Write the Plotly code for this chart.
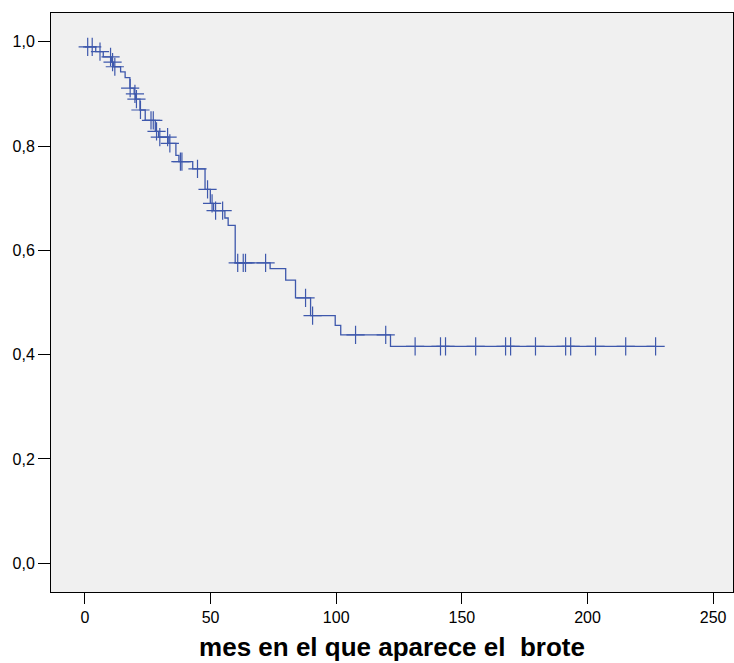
import numpy as np
import plotly.graph_objects as go

# Kaplan-Meier estimate: event times (months) and survival after each event
evt_t = [0, 4.3, 7.3, 10.5, 11.4, 14.2, 16.0, 17.9, 19.6, 20.2, 21.9, 24.0, 28.0,
         29.3, 33.4, 36.2, 37.4, 42.9, 47.8, 49.9, 51.2, 55.7, 57.0, 59.8, 73.7,
         79.9, 83.8, 89.8, 99.6, 101.8, 121.6]
evt_s = [0.990, 0.981, 0.971, 0.961, 0.952, 0.942, 0.931, 0.911, 0.900, 0.890,
         0.869, 0.849, 0.828, 0.817, 0.805, 0.782, 0.770, 0.756, 0.717, 0.690,
         0.676, 0.662, 0.648, 0.576, 0.565, 0.543, 0.509, 0.475, 0.456, 0.438,
         0.416]

# Censored observations (months)
censor_t = [1.1, 2.9, 6.0, 10.2, 11.0, 11.9, 18.0, 19.9, 20.5, 22.1, 26.3, 27.2,
            28.5, 29.8, 32.9, 33.8, 38.0, 38.6, 44.8, 48.8, 50.6, 52.0, 54.8,
            60.8, 63.0, 63.9, 71.9, 87.8, 90.6, 107.7, 119.7, 131.4, 141.5,
            143.5, 155.5, 167.4, 169.4, 179.3, 191.3, 193.3, 203.2, 215.2, 227.1]

x_ticks = [0, 50, 100, 150, 200, 250]
y_ticks = [0.0, 0.2, 0.4, 0.6, 0.8, 1.0]

BLUE = "#3e58ac"
FONT = "Liberation Sans, Arial, sans-serif"

# Step curve runs until the last follow-up time
end_t = max(censor_t[-1], evt_t[-1])
step_x = list(evt_t) + [end_t]
step_y = list(evt_s) + [evt_s[-1]]

# Survival level at each censoring time
idx = np.searchsorted(np.array(evt_t), np.array(censor_t), side="right") - 1
censor_s = [evt_s[i] for i in idx]

fig = go.Figure()
fig.add_trace(go.Scatter(
    x=step_x, y=step_y, mode="lines",
    line=dict(color=BLUE, width=1.3, shape="hv"),
    hoverinfo="skip", showlegend=False,
))
fig.add_trace(go.Scatter(
    x=censor_t, y=censor_s, mode="markers",
    marker=dict(symbol="cross-thin", size=13, color=BLUE,
                line=dict(color=BLUE, width=1.2)),
    showlegend=False,
))

fig.update_layout(
    width=734, height=663,
    margin=dict(l=51, r=1, t=13, b=71),
    paper_bgcolor="white",
    plot_bgcolor="#f0f0f0",
    separators=", ",
    font=dict(family=FONT, size=16, color="black"),
)
fig.update_xaxes(
    range=[-13.5, 257.9],
    tickvals=x_ticks,
    ticks="outside", ticklen=11, tickwidth=1, tickcolor="black",
    showgrid=False, zeroline=False,
    showline=True, mirror=True, linecolor="black", linewidth=1,
    tickfont=dict(family=FONT, size=16),
    title=dict(text="mes en el que aparece el\u00a0 brote",
               font=dict(family=FONT, size=26, weight="bold"), standoff=12),
)
fig.update_yaxes(
    range=[-0.055, 1.055],
    tickvals=y_ticks, tickformat=".1f",
    ticks="outside", ticklen=12, tickwidth=1, tickcolor="black",
    showgrid=False, zeroline=False,
    showline=True, mirror=True, linecolor="black", linewidth=1,
    tickfont=dict(family=FONT, size=16),
)

fig.write_html("out.html")
